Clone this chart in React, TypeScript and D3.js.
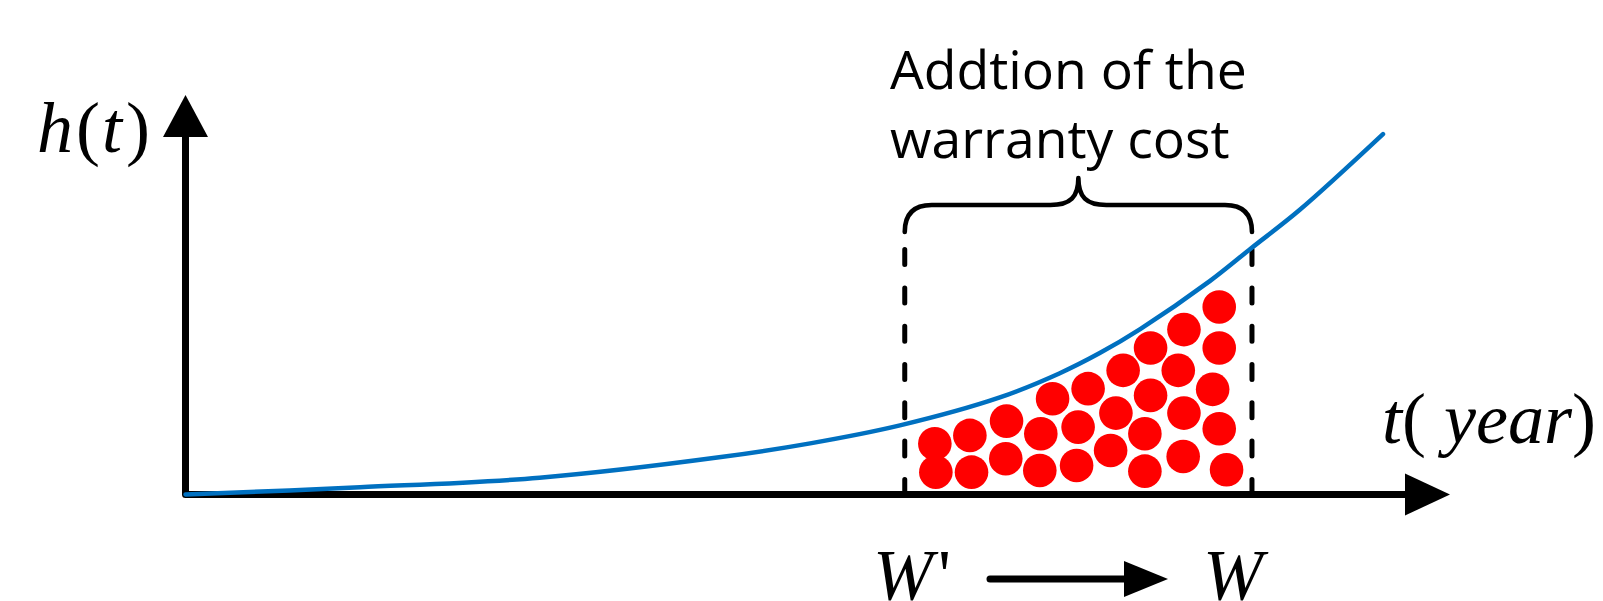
import React from 'react';
import * as d3 from 'd3';

// hazard-rate curve h(t)
const curveT = [0, 1.38, 2.8, 4.22, 4.94, 5.65, 6.44, 6.91, 7.23, 7.55, 8.1, 8.43, 8.81, 9.47];
const curveH = [0, 0.18, 0.42, 0.93, 1.28, 1.73, 2.43, 3.03, 3.54, 4.14, 5.34, 6.17, 7.12, 9.02];

// failures (red dots) inside the extended warranty window
const dotT = [5.926, 5.934, 6.203, 6.216, 6.493, 6.487, 6.764, 6.756, 6.857, 7.138, 7.059, 7.047, 7.415, 7.358,
  7.316, 7.632, 7.632, 7.587, 7.587, 7.896, 7.851, 7.896, 7.89, 8.175, 8.175, 8.123, 8.175, 8.233];
const dotH = [1.271, 0.559, 1.479, 0.559, 1.837, 0.895, 1.521, 0.602, 2.398, 2.649, 1.687, 0.727, 3.108, 2.038,
  1.103, 3.667, 2.481, 1.521, 0.584, 4.128, 3.108, 2.038, 0.952, 4.694, 3.667, 2.632, 1.647, 0.619];

// warranty window W' -> W
const windowT = [5.688, 8.434];
const windowTopH = 6.13;

const annotationLines = ['Addtion of the', 'warranty cost'];

const WIDTH = 1603;
const HEIGHT = 601;

export default function App() {
  const x = d3.scaleLinear().domain([0, 10]).range([185.5, 1450]);
  const y = d3.scaleLinear().domain([0, 10]).range([494.5, 95]);

  const line = d3
    .line<number>()
    .x((_, i) => x(curveT[i]))
    .y((d) => y(d))
    .curve(d3.curveCatmullRom.alpha(0.5));

  const x0 = x(0);
  const y0 = y(0);
  const yTop = y(10);
  const xEnd = x(10);

  const axisPath = `M${x0},${yTop + 42} L${x0},${y0} L${xEnd - 45},${y0}`;
  const yArrow = `M${x0},${yTop} L${x0 - 22.5},${yTop + 42} L${x0 + 22.5},${yTop + 42} Z`;
  const xArrow = `M${xEnd},${y0} L${xEnd - 45},${y0 - 21} L${xEnd - 45},${y0 + 21} Z`;

  const xl = x(windowT[0]);
  const xr = x(windowT[1]);
  const xm = (xl + xr) / 2;
  const bBase = 232;
  const bBar = 205;
  const bTip = 178;
  const r = 27;
  const brace = `M${xl},${bBase} Q${xl},${bBar} ${xl + r},${bBar} L${xm - 28},${bBar} C${xm - 8},${bBar} ${xm},${bBar - 8} ${xm},${bTip} C${xm},${bBar - 8} ${xm + 8},${bBar} ${xm + 28},${bBar} L${xr - r},${bBar} Q${xr},${bBar} ${xr},${bBase}`;

  const serif = "'Liberation Serif', 'Times New Roman', 'DejaVu Serif', serif";
  const sans = "'Open Sans', 'Noto Sans', 'Liberation Sans', sans-serif";

  return (
    <svg width={WIDTH} height={HEIGHT} style={{ position: 'absolute', left: 0, top: 0, background: '#fff' }}>
      <rect x={0} y={0} width={WIDTH} height={HEIGHT} fill="#fff" />
      {/* dashed window lines */}
      {windowT.map((t, i) => (
        <line
          key={i}
          x1={x(t)}
          x2={x(t)}
          y1={y(windowTopH)}
          y2={y0}
          stroke="#000"
          strokeWidth={5}
          strokeLinecap="round"
          strokeDasharray="15 23.3"
        />
      ))}
      {/* dots */}
      {dotT.map((t, i) => (
        <circle key={i} cx={x(t)} cy={y(dotH[i])} r={16.8} fill="#FF0000" />
      ))}
      {/* axes */}
      <path d={axisPath} fill="none" stroke="#000" strokeWidth={7} strokeLinejoin="round" strokeLinecap="butt" />
      <path d={yArrow} fill="#000" />
      <path d={xArrow} fill="#000" />
      {/* curve */}
      <path d={line(curveH) || ''} fill="none" stroke="#0070C0" strokeWidth={4.5} strokeLinecap="round" />
      {/* brace */}
      <path d={brace} fill="none" stroke="#000" strokeWidth={4.6} strokeLinecap="round" strokeLinejoin="round" />
      {/* annotation */}
      {annotationLines.map((s, i) => (
        <text key={i} x={890} y={89 + i * 69} fontFamily={sans} fontSize={53.5} fill="#000">
          {s}
        </text>
      ))}
      {/* axis labels */}
      <text x={37} y={152} fontFamily={serif} fontSize={72} fill="#000">
        <tspan fontStyle="italic">h</tspan>
        <tspan dx={3}>(</tspan>
        <tspan dx={2} fontStyle="italic">t</tspan>
        <tspan dx={4}>)</tspan>
      </text>
      <text x={1382} y={443} fontFamily={serif} fontSize={72} fill="#000">
        <tspan fontStyle="italic">t</tspan>
        <tspan>(</tspan>
        <tspan fontStyle="italic">{'\u00A0year'}</tspan>
        <tspan>)</tspan>
      </text>
      {/* W' -> W */}
      <text x={873} y={599} fontFamily={serif} fontSize={72} fill="#000">
        <tspan fontStyle="italic">W</tspan>
        <tspan dx={5}>{"'"}</tspan>
      </text>
      <line x1={990} x2={1126} y1={579} y2={579} stroke="#000" strokeWidth={7} strokeLinecap="round" />
      <path d={`M1168,579 L1124,561 L1124,597 Z`} fill="#000" />
      <text x={1203} y={599} fontFamily={serif} fontSize={72} fontStyle="italic" fill="#000">
        W
      </text>
    </svg>
  );
}
